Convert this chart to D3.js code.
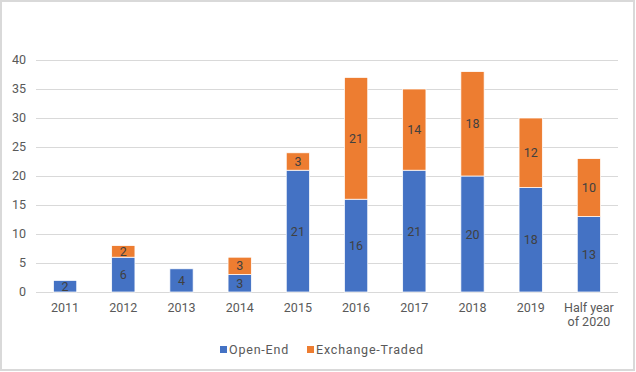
<!DOCTYPE html>
<html><head><meta charset="utf-8">
<script src="https://cdn.jsdelivr.net/npm/d3@7"></script>
<style>body{margin:0;background:#fff}svg{display:block}</style>
</head><body>
<script>
const categories = ["2011","2012","2013","2014","2015","2016","2017","2018","2019","Half year\nof 2020"];
const openEnd = [2,6,4,3,21,16,21,20,18,13];
const exchangeTraded = [0,2,0,3,3,21,14,18,12,10];
const seriesNames = ["Open-End","Exchange-Traded"];
const yTicks = [0,5,10,15,20,25,30,35,40];

const W = 636, H = 372;
const colors = ["#4472C4","#ED7D31"];
const font = "Roboto, 'Liberation Sans', sans-serif";
const svg = d3.select("body").append("svg").attr("width", W).attr("height", H);
svg.append("rect").attr("x",1).attr("y",1).attr("width",W-3).attr("height",H-3)
  .attr("fill","#fff").attr("stroke","#d9d9d9").attr("stroke-width",2);

const x = d3.scaleBand().domain(categories).range([36,618]).paddingInner(0.6).paddingOuter(0.3);
const y = d3.scaleLinear().domain([0,40]).range([292,60]);

const g = svg.append("g");
g.selectAll("line.grid").data(yTicks).join("line")
  .attr("x1",36).attr("x2",618).attr("y1",d=>y(d)).attr("y2",d=>y(d))
  .attr("stroke","#d9d9d9").attr("stroke-width",1).attr("shape-rendering","crispEdges");
g.selectAll("text.ytick").data(yTicks).join("text")
  .attr("x",26).attr("y",d=>y(d)+4).attr("text-anchor","end")
  .attr("font-family",font).attr("font-size",12.5).attr("fill","#595959").text(d=>d);

const data = categories.map((c,i)=>({c, vals:[openEnd[i], exchangeTraded[i]]}));
const stack = d3.stack().keys([0,1]).value((d,k)=>d.vals[k])(data);

stack.forEach((layer,k)=>{
  const lg = g.append("g");
  lg.selectAll("rect").data(layer.filter(d=>d[1]-d[0]>0)).join("rect")
    .attr("x",d=>x(d.data.c)).attr("width",x.bandwidth())
    .attr("y",d=>y(d[1])).attr("height",d=>y(d[0])-y(d[1]))
    .attr("fill",colors[k]).attr("stroke","#fff").attr("stroke-width",0.75);
  lg.selectAll("text").data(layer.filter(d=>d[1]-d[0]>0)).join("text")
    .attr("x",d=>x(d.data.c)+x.bandwidth()/2)
    .attr("y",d=>(y(d[0])+y(d[1]))/2+4.5)
    .attr("text-anchor","middle").attr("font-family",font).attr("font-size",12.5)
    .attr("fill","#404040").text(d=>d[1]-d[0]);
});

// x labels
g.selectAll("text.xl").data(categories).join("text")
  .attr("font-family",font).attr("font-size",12.5).attr("fill","#595959")
  .attr("text-anchor","middle")
  .each(function(d){
    const t = d3.select(this);
    d.split("\n").forEach((line,i)=>{
      t.append("tspan").attr("x",x(d)+x.bandwidth()/2).attr("y",312+i*14).text(line);
    });
  });

// legend
const legend = [{n:seriesNames[0],c:colors[0],x:220},{n:seriesNames[1],c:colors[1],x:307}];
legend.forEach(l=>{
  svg.append("rect").attr("x",l.x).attr("y",346).attr("width",7).attr("height",7).attr("fill",l.c);
  svg.append("text").attr("x",l.x+9).attr("y",354).attr("font-family",font).attr("font-size",12.5)
    .attr("letter-spacing",0.8).attr("fill","#595959").text(l.n);
});
</script>
</body></html>
